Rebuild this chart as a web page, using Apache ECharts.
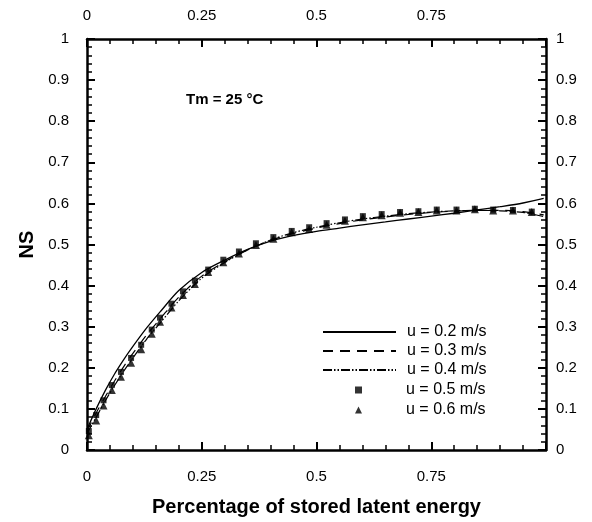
<!DOCTYPE html>
<html><head><meta charset="utf-8">
<script src="https://cdn.jsdelivr.net/npm/echarts@6/dist/echarts.min.js"></script>
<style>html,body{margin:0;padding:0;background:#fff}#c{width:592px;height:522px}</style>
</head><body><div id="c"></div>
<script>
// ---- data ----
const xTicks = [0, 0.25, 0.5, 0.75];
const lineX = [0,0.02,0.04,0.06,0.08,0.1,0.13,0.16,0.2,0.25,0.3,0.35,0.4,0.45,0.5,0.55,0.6,0.65,0.7,0.75,0.8,0.85,0.9,0.95,0.995];
const u02 = [0.05,0.10,0.145,0.185,0.22,0.252,0.297,0.337,0.388,0.432,0.462,0.488,0.508,0.522,0.532,0.540,0.548,0.555,0.562,0.569,0.576,0.584,0.592,0.601,0.612];
const u03 = [0.045,0.09,0.13,0.168,0.203,0.235,0.28,0.32,0.372,0.423,0.458,0.487,0.51,0.527,0.54,0.551,0.56,0.567,0.573,0.578,0.581,0.583,0.583,0.58,0.572];
const u04 = [0.04,0.08,0.12,0.157,0.192,0.224,0.27,0.31,0.363,0.418,0.456,0.487,0.511,0.529,0.542,0.553,0.562,0.569,0.575,0.579,0.582,0.583,0.582,0.578,0.568];
const markX = [0.004,0.02,0.036,0.054,0.074,0.096,0.118,0.141,0.159,0.184,0.209,0.235,0.264,0.297,0.331,0.368,0.406,0.446,0.484,0.522,0.562,0.601,0.642,0.682,0.722,0.762,0.805,0.845,0.885,0.928,0.969];
const u05 = [0.046,0.085,0.121,0.158,0.19,0.224,0.256,0.293,0.322,0.356,0.386,0.412,0.439,0.463,0.483,0.503,0.518,0.533,0.542,0.552,0.561,0.569,0.574,0.579,0.581,0.585,0.585,0.587,0.585,0.584,0.58];
const u06 = [0.036,0.072,0.108,0.146,0.178,0.212,0.245,0.283,0.312,0.347,0.377,0.404,0.433,0.457,0.478,0.499,0.514,0.53,0.538,0.548,0.558,0.566,0.571,0.577,0.579,0.583,0.583,0.586,0.583,0.583,0.579];
const names = ['u = 0.2 m/s','u = 0.3 m/s','u = 0.4 m/s','u = 0.5 m/s','u = 0.6 m/s'];

const pair = (xs, ys) => xs.map((x, i) => [x, ys[i]]);
const FONT = '"Liberation Sans", Arial, sans-serif';

function xAxisDef(pos){
  return {
    type:'value', position:pos, min:0, max:1, interval:0.25,
    axisLine:{show:true, onZero:false, lineStyle:{color:'#000', width:2.5}},
    axisTick:{show:true, inside:true, length:8, lineStyle:{color:'#000', width:2}},
    minorTick:{show:true, splitNumber:5, length:5, lineStyle:{color:'#000', width:1.5}},
    splitLine:{show:false},
    axisLabel:{color:'#000', fontSize:15, fontFamily:FONT, margin: pos==='bottom'?19:16,
      formatter: v => (xTicks.indexOf(v) >= 0 ? String(v) : '')},
    name: pos==='bottom' ? 'Percentage of stored latent energy' : '',
    nameLocation:'middle', nameGap:47,
    nameTextStyle:{color:'#000', fontSize:20, fontWeight:'bold', fontFamily:FONT}
  };
}
function yAxisDef(pos){
  return {
    type:'value', position:pos, min:0, max:1, interval:0.1,
    axisLine:{show:true, onZero:false, lineStyle:{color:'#000', width:2.5}},
    axisTick:{show:true, inside:true, length:8, lineStyle:{color:'#000', width:2}},
    minorTick:{show:true, splitNumber:5, length:5, lineStyle:{color:'#000', width:1.5}},
    splitLine:{show:false},
    axisLabel:{color:'#000', fontSize:15, fontFamily:FONT, margin: pos==='left'?18:10},
    name: pos==='left' ? 'NS' : '',
    nameLocation:'middle', nameGap:49,
    nameTextStyle:{color:'#000', fontSize:20, fontWeight:'bold', fontFamily:FONT}
  };
}

const chart = echarts.init(document.getElementById('c'), null, {renderer:'canvas'});
chart.setOption({
  backgroundColor:'#fff',
  animation:false,
  title:{text:'Tm = 25 °C', left:181, top:87,
    textStyle:{color:'#000', fontSize:15, fontWeight:'bold', fontFamily:FONT}},
  grid:{left:87, right:46, top:39, bottom:66},
  xAxis:[xAxisDef('bottom'), xAxisDef('top')],
  yAxis:[yAxisDef('left'), yAxisDef('right')],
  legend:[
    {data:names.slice(0,3), orient:'vertical', left:322, top:324, padding:0,
     itemWidth:73, itemHeight:16, itemGap:3, selectedMode:false,
     itemStyle:{opacity:0},
     formatter:'{a|{name}}',
     textStyle:{color:'#000', fontSize:16, fontFamily:FONT,
       rich:{a:{padding:[0,0,0,6], fontSize:16, lineHeight:16, fontFamily:FONT}}}},
    {data:names.slice(3), orient:'vertical', left:355, top:382, padding:0,
     itemWidth:7, itemHeight:7, itemGap:4, selectedMode:false,
     formatter:'{a|{name}}',
     textStyle:{color:'#000', fontSize:16, fontFamily:FONT,
       rich:{a:{padding:[0,0,0,39], fontSize:16, lineHeight:16, fontFamily:FONT}}}}
  ],
  series:[
    {name:names[0], type:'line', data:pair(lineX,u02), smooth:0.3, symbol:'none',
     lineStyle:{color:'#000', width:1.3, type:'solid'}, itemStyle:{color:'#000'}},
    {name:names[1], type:'line', data:pair(lineX,u03), smooth:0.3, symbol:'none',
     lineStyle:{color:'#000', width:1.2, type:[10,7]}, itemStyle:{color:'#000'}},
    {name:names[2], type:'line', data:pair(lineX,u04), smooth:0.3, symbol:'none',
     lineStyle:{color:'#000', width:1.2, type:[9,2,1.5,2,1.5,2]}, itemStyle:{color:'#000'}},
    {name:names[3], type:'scatter', data:pair(markX,u05), symbol:'rect', symbolSize:6,
     itemStyle:{color:'#000'}},
    {name:names[4], type:'scatter', data:pair(markX,u06), symbol:'triangle', symbolSize:8,
     itemStyle:{color:'#000'}}
  ]
});
</script></body></html>
